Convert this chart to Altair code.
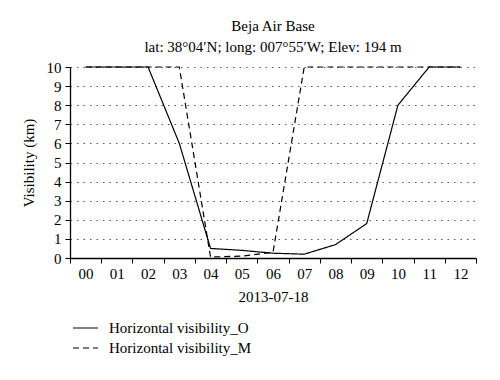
import altair as alt
import pandas as pd

hours = list(range(13))
vis_o = [10, 10, 10, 6, 0.5, 0.4, 0.25, 0.2, 0.7, 1.8, 8, 10, 10]
vis_m = [10, 10, 10, 10, 0.05, 0.1, 0.3, 10, 10, 10, 10, 10, 10]
series_names = ["Horizontal visibility_O", "Horizontal visibility_M"]

rows = []
for h, v in zip(hours, vis_o):
    rows.append({"hour": h, "vis": v, "series": series_names[0]})
for h, v in zip(hours, vis_m):
    rows.append({"hour": h, "vis": v, "series": series_names[1]})
df = pd.DataFrame(rows)

FONT = "Liberation Serif"
tick_vals = [x / 2 for x in range(-1, 26)]

chart = alt.Chart(df).mark_line(color="black", strokeWidth=1.2).encode(
    x=alt.X(
        "hour:Q",
        scale=alt.Scale(domain=[-0.5, 12.5], nice=False, zero=False),
        axis=alt.Axis(
            values=tick_vals,
            format="02d",
            labelExpr="datum.value % 1 === 0 ? datum.label : ''",
            tickOpacity={"condition": {"test": "datum.value % 1 !== 0", "value": 1}, "value": 0},
            labelOverlap=False,
            grid=False,
            title="2013-07-18",
            tickSize=5,
            labelPadding=3,
            titlePadding=8,
        ),
    ),
    y=alt.Y(
        "vis:Q",
        scale=alt.Scale(domain=[0, 10], nice=False),
        axis=alt.Axis(
            values=list(range(11)),
            title="Visibility (km)",
            tickSize=5,
            grid=True,
            gridDash=[1.5, 5],
            gridColor="#555555",
            gridWidth=1,
            titlePadding=10,
            labelPadding=4,
        ),
    ),
    strokeDash=alt.StrokeDash(
        "series:N",
        sort=series_names,
        scale=alt.Scale(domain=series_names, range=[[1, 0], [6, 4]]),
        legend=alt.Legend(
            title=None,
            orient="none",
            legendX=4.5,
            legendY=250,
            symbolType="M-1.25,0L1.25,0",
            symbolSize=400,
            symbolStrokeColor="black",
            symbolStrokeWidth=1.2,
            labelOffset=12.5,
            rowPadding=1,
            padding=0,
        ),
    ),
).properties(
    width=406,
    height=191,
    padding={"left": 62, "top": 59, "right": 16, "bottom": 120},
    autosize=alt.AutoSizeParams(type="none"),
    title=alt.Title(
        ["Beja Air Base", "lat: 38°04′N; long: 007°55′W; Elev: 194 m"],
        font=FONT,
        fontSize=15,
        fontWeight="normal",
        lineHeight=21,
        anchor="middle",
        offset=5,
        color="black",
    ),
).configure_view(
    stroke=None
).configure_axis(
    domainColor="black",
    domainWidth=1.3,
    tickColor="black",
    tickWidth=1,
    labelFont=FONT,
    labelFontSize=15,
    labelColor="black",
    titleFont=FONT,
    titleFontSize=15,
    titleFontWeight="normal",
    titleColor="black",
).configure_legend(
    labelFont=FONT,
    labelFontSize=15,
    labelColor="black",
)

chart.save("out.html", embed_options={"renderer": "svg", "actions": False})
